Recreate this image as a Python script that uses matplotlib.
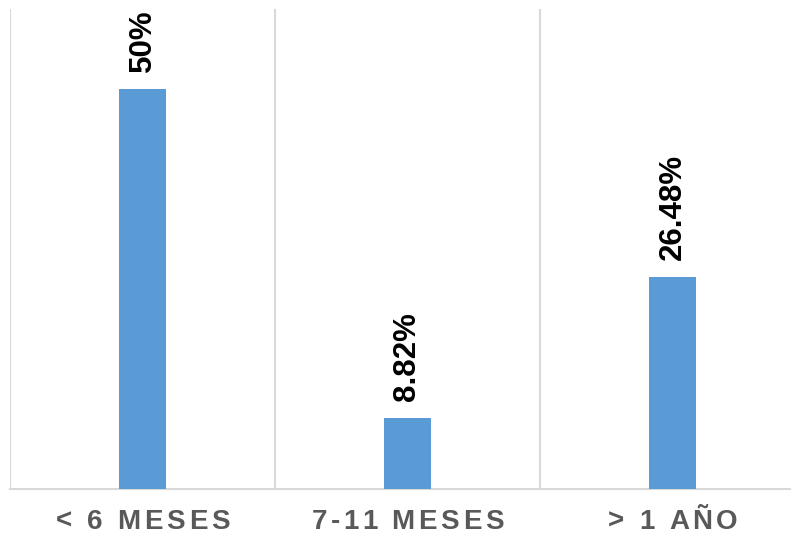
import matplotlib.pyplot as plt
from matplotlib.font_manager import FontProperties
import matplotlib.transforms as mtransforms

categories = ['< 6 MESES', '7-11 MESES', '> 1 AÑO']
values = [50, 8.82, 26.48]
labels = ['50%', '8.82%', '26.48%']

plt.rcParams['font.family'] = ['Liberation Sans', 'DejaVu Sans']

fig = plt.figure(figsize=(7.91, 5.38), dpi=100)
ax = fig.add_axes([10 / 791, 49 / 538, 795 / 791, 480 / 538])

x = list(range(len(categories)))
bars = ax.bar(x, values, width=0.178, color='#5b9bd5', zorder=3)

for b, lab in zip(bars, labels):
    ax.annotate(lab, (b.get_x() + b.get_width() / 2, b.get_height()),
                xytext=(0, 12.5), textcoords='offset points',
                rotation=90, ha='center', va='bottom',
                fontsize=22.5, fontweight='bold', color='black')

ax.set_xlim(-0.5, 2.5)
ax.set_ylim(0, 60)
ax.set_yticks([])
ax.set_xticks(x)
ax.set_xticklabels([])
ax.tick_params(axis='x', length=0)

for xv in [-0.5, 0.5, 1.5, 2.5]:
    ax.axvline(xv, color='#d9d9d9', lw=1.5, zorder=1)

for s in ['top', 'right', 'left']:
    ax.spines[s].set_visible(False)
ax.spines['bottom'].set_color('#d9d9d9')
ax.spines['bottom'].set_linewidth(1.5)

# category labels with letter spacing (drawn char by char)
fp = FontProperties(family=['Liberation Sans', 'DejaVu Sans'], size=20, weight='bold')
renderer = fig.canvas.get_renderer()
def tw(s):
    return renderer.get_text_width_height_descent(s, fp, ismath=False)[0]

spacing = 3.7  # px
base = mtransforms.blended_transform_factory(ax.transData, ax.transAxes)
for xi, cat in zip(x, categories):
    total = tw(cat) + spacing * (len(cat) - 1)
    for i, ch in enumerate(cat):
        left = (tw(cat[:i] + '|') - tw('|')) if i > 0 else 0
        dx = left + i * spacing - total / 2
        tr = mtransforms.offset_copy(base, fig=fig, x=dx * 72 / 100,
                                     y=-20 * 72 / 100, units='points')
        ax.text(xi, 0, ch, transform=tr, ha='left', va='top',
                fontproperties=fp, color='#595959', clip_on=False)

fig.savefig('out.png', dpi=100)
